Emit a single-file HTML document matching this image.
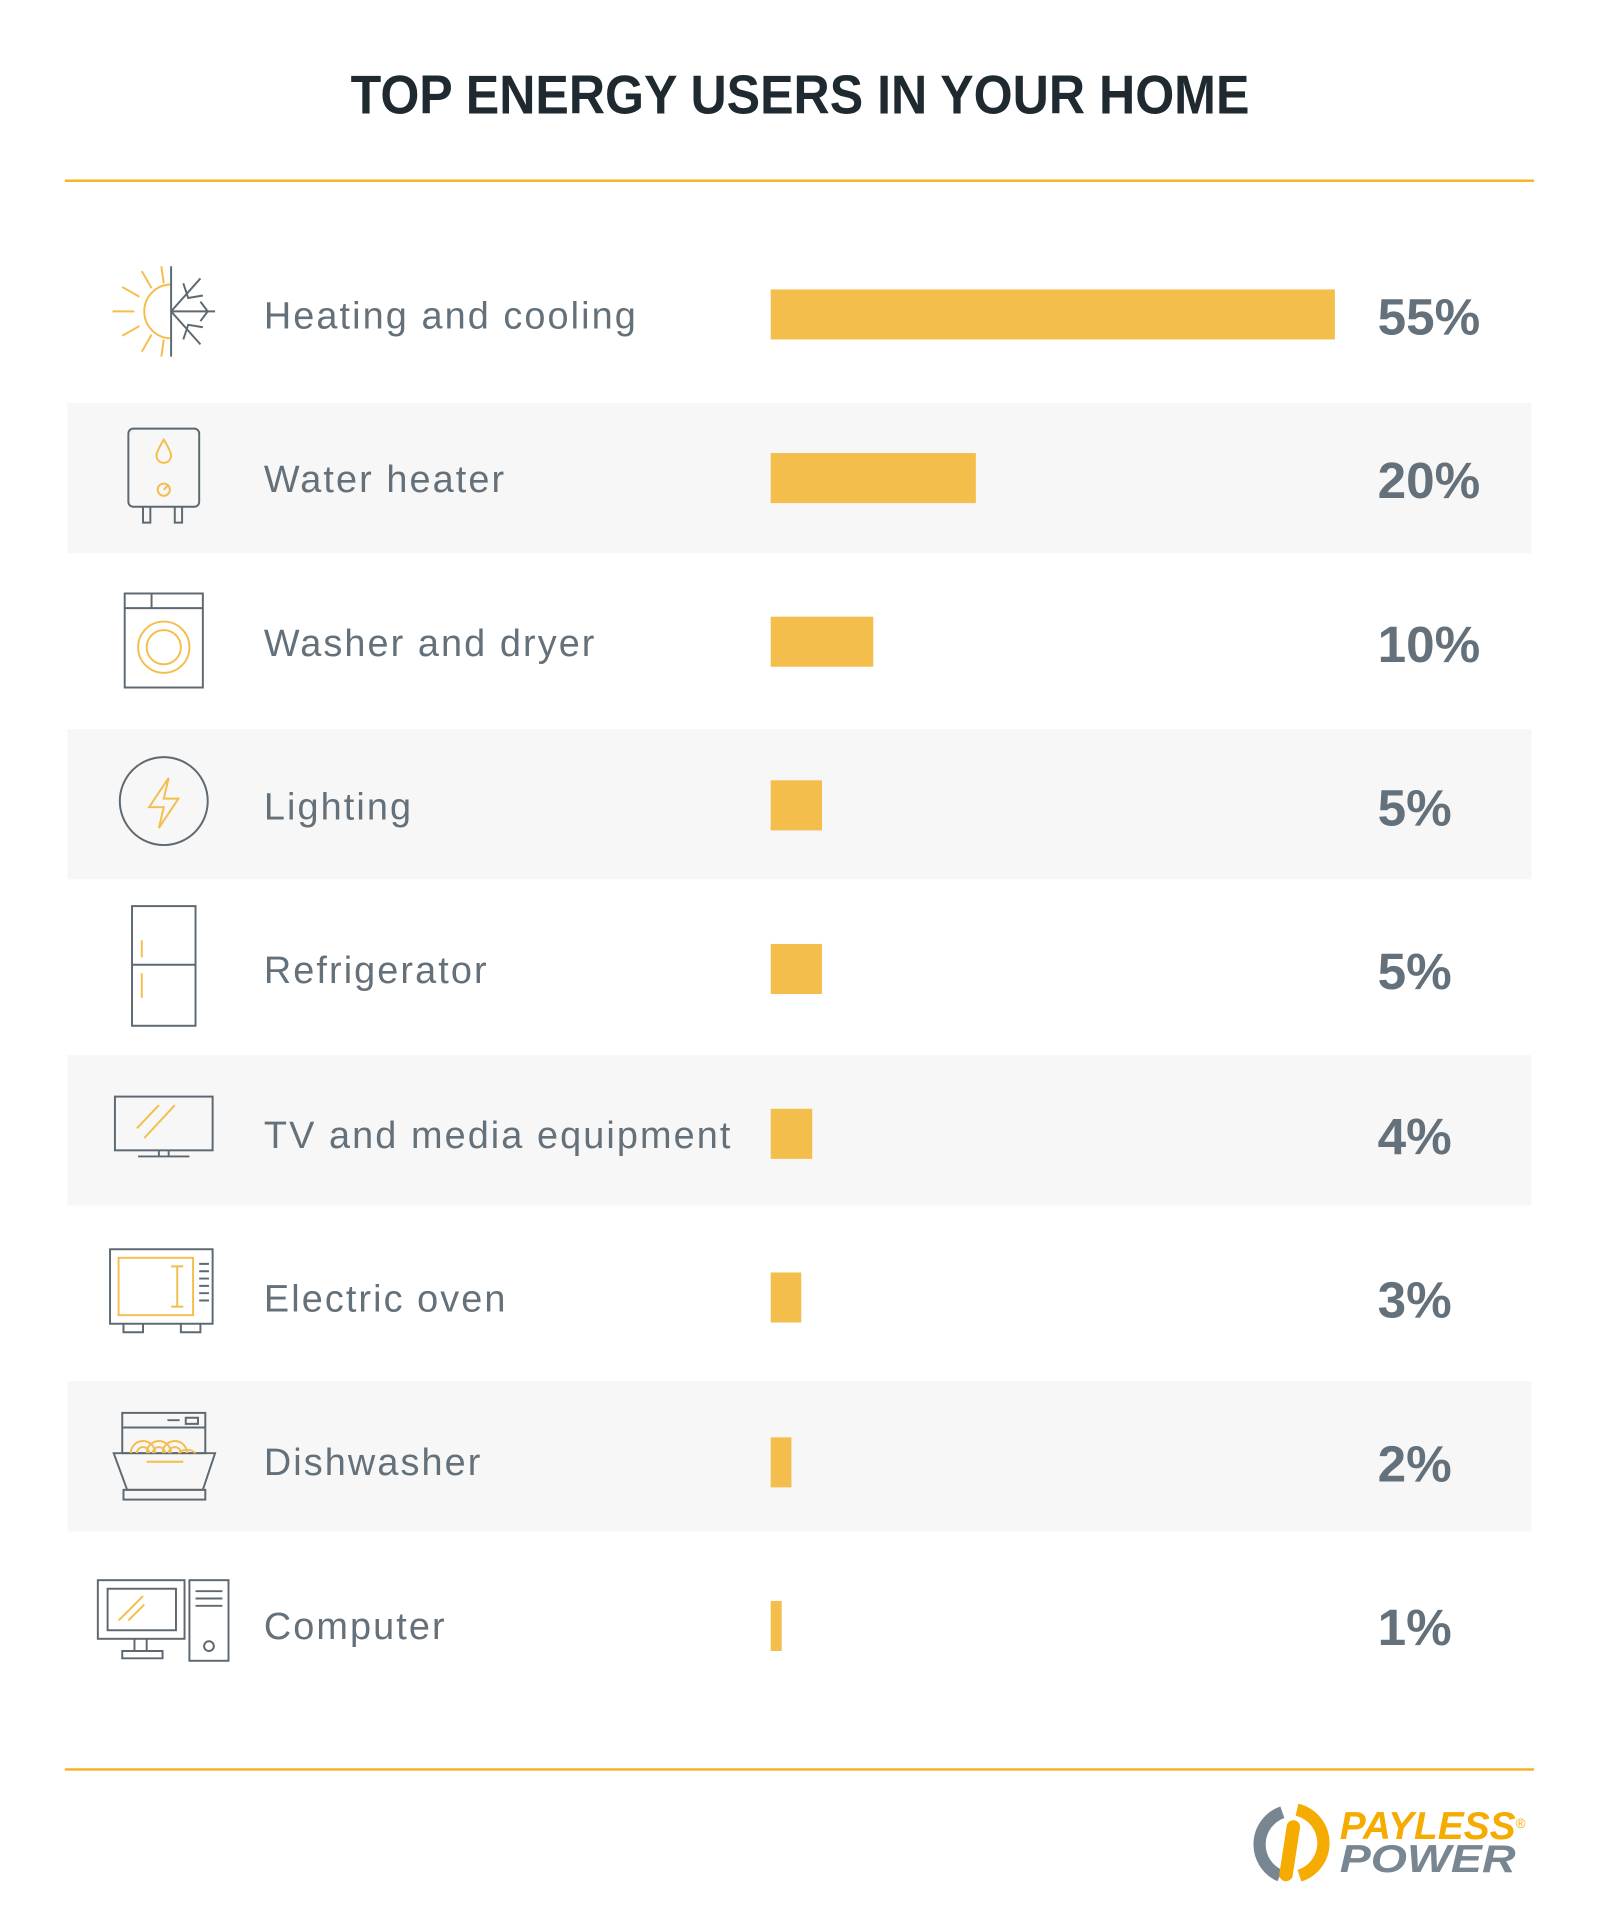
<!DOCTYPE html>
<html><head><meta charset="utf-8"><style>html,body{margin:0;padding:0;background:#fff}svg{display:block}</style></head>
<body>
<svg width="1600" height="1916" viewBox="0 0 1310 1569" xmlns="http://www.w3.org/2000/svg">
<rect width="1310" height="1569" fill="#fff"/>
<text x="655" y="93" text-anchor="middle" font-family="Liberation Sans, sans-serif" font-weight="bold" font-size="45" fill="#1f2a30" textLength="736" lengthAdjust="spacingAndGlyphs">TOP ENERGY USERS IN YOUR HOME</text>
<rect x="53" y="147" width="1203" height="2" fill="#f4b223"/>
<rect x="53" y="1448" width="1203" height="2" fill="#f4b223"/>
<g fill="#f7f7f7">
<rect x="55" y="330" width="1199" height="123"/>
<rect x="55" y="597" width="1199" height="123"/>
<rect x="55" y="864" width="1199" height="123"/>
<rect x="55" y="1131" width="1199" height="123"/>
</g>
<g font-family="Liberation Sans, sans-serif" font-size="31" fill="#65717a" letter-spacing="1.7">
<text x="216" y="269">Heating and cooling</text>
<text x="216" y="403">Water heater</text>
<text x="216" y="537">Washer and dryer</text>
<text x="216" y="671">Lighting</text>
<text x="216" y="805">Refrigerator</text>
<text x="216" y="940">TV and media equipment</text>
<text x="216" y="1074">Electric oven</text>
<text x="216" y="1208">Dishwasher</text>
<text x="216" y="1342">Computer</text>
</g>
<g fill="#f4be4c">
<rect x="631" y="237" width="462" height="41"/>
<rect x="631" y="371" width="168" height="41"/>
<rect x="631" y="505" width="84" height="41"/>
<rect x="631" y="639" width="42" height="41"/>
<rect x="631" y="773" width="42" height="41"/>
<rect x="631" y="908" width="34" height="41"/>
<rect x="631" y="1042" width="25" height="41"/>
<rect x="631" y="1177" width="17" height="41"/>
<rect x="631" y="1311" width="9" height="41"/>
</g>
<g font-family="Liberation Sans, sans-serif" font-weight="bold" font-size="42" fill="#65717a">
<text x="1128" y="274">55%</text>
<text x="1128" y="408">20%</text>
<text x="1128" y="542">10%</text>
<text x="1128" y="676">5%</text>
<text x="1128" y="810">5%</text>
<text x="1128" y="945">4%</text>
<text x="1128" y="1079">3%</text>
<text x="1128" y="1213">2%</text>
<text x="1128" y="1347">1%</text>
</g>
<g fill="none" stroke-width="1.6">
<path d="M140 233 A22 22 0 0 0 140 277" stroke="#f4be4c"/>
<g stroke="#f4be4c"><line x1="92" y1="255" x2="110" y2="255"/><line x1="100" y1="235" x2="114" y2="243"/><line x1="100" y1="275" x2="114" y2="267"/><line x1="116" y1="222" x2="124" y2="236"/><line x1="116" y1="288" x2="124" y2="274"/><line x1="132" y1="218" x2="134" y2="232"/><line x1="132" y1="292" x2="134" y2="278"/></g>
<g stroke="#5d6870"><line x1="140" y1="218" x2="140" y2="292"/><line x1="140" y1="255" x2="176" y2="255"/><line x1="140" y1="255" x2="164" y2="228"/><line x1="140" y1="255" x2="164" y2="282"/><path d="M150 232 l4 12 l12 -2 M150 278 l4 -12 l12 2 M164 247 l6 8 l-6 8"/></g>
<rect x="105" y="351" width="58" height="64" rx="4" stroke="#5d6870"/>
<path d="M117 415 v13 h6 v-13 M143 415 v13 h6 v-13" stroke="#5d6870"/>
<path d="M134 360 q-6 10 -6 13 a6 6 0 0 0 12 0 q0 -3 -6 -13z" stroke="#f4be4c"/>
<circle cx="134" cy="401" r="5" stroke="#f4be4c"/><line x1="134" y1="401" x2="137" y2="398" stroke="#f4be4c"/>
<rect x="102" y="486" width="64" height="77" stroke="#5d6870"/><line x1="102" y1="498" x2="166" y2="498" stroke="#5d6870"/><line x1="124" y1="486" x2="124" y2="498" stroke="#5d6870"/>
<circle cx="134" cy="530" r="21" stroke="#f4be4c"/><circle cx="134" cy="530" r="14" stroke="#f4be4c"/>
<circle cx="134" cy="656" r="36" stroke="#5d6870"/>
<path d="M138 637 l-16 24 h12 l-4 17 l16 -24 h-12z" stroke="#f4be4c"/>
<rect x="108" y="742" width="52" height="98" stroke="#5d6870"/><line x1="108" y1="790" x2="160" y2="790" stroke="#5d6870"/>
<line x1="116" y1="770" x2="116" y2="784" stroke="#f4be4c"/><line x1="116" y1="797" x2="116" y2="817" stroke="#f4be4c"/>
<rect x="94" y="898" width="80" height="44" stroke="#5d6870"/><line x1="113" y1="947" x2="155" y2="947" stroke="#5d6870"/><line x1="130" y1="942" x2="130" y2="947" stroke="#5d6870"/><line x1="138" y1="942" x2="138" y2="947" stroke="#5d6870"/>
<line x1="112" y1="924" x2="130" y2="905" stroke="#f4be4c"/><line x1="118" y1="932" x2="143" y2="905" stroke="#f4be4c"/>
<rect x="90" y="1023" width="84" height="61" stroke="#5d6870"/><rect x="97" y="1030" width="61" height="47" stroke="#f4be4c"/>
<path d="M140 1037 h10 M145 1037 v33 M140 1070 h10" stroke="#f4be4c"/>
<path d="M163 1035 h8 M163 1041 h8 M163 1047 h8 M163 1053 h8 M163 1059 h8 M163 1065 h8" stroke="#5d6870"/>
<path d="M101 1084 v7 h16 v-7 M148 1084 v7 h16 v-7" stroke="#5d6870"/>
<rect x="100" y="1157" width="68" height="33" stroke="#5d6870"/><line x1="100" y1="1169" x2="168" y2="1169" stroke="#5d6870"/>
<path d="M137 1163 h10 M152 1161 h10 v5 h-10z" stroke="#5d6870"/>
<path d="M93 1190 h83 l-10 30 h-62z" stroke="#5d6870"/><rect x="101" y="1220" width="67" height="8" stroke="#5d6870"/>
<path d="M107 1190 a10 10 0 0 1 20 0 M120 1190 a10 10 0 0 1 20 0 M133 1190 a10 10 0 0 1 20 0 M146 1190 a10 10 0 0 1 14 0 M112 1190 a5 5 0 0 1 10 0 M125 1190 a5 5 0 0 1 10 0 M138 1190 a5 5 0 0 1 10 0 M120 1197 h30" stroke="#f4be4c"/>
<rect x="80" y="1294" width="71" height="48" stroke="#5d6870"/><rect x="88" y="1301" width="56" height="34" stroke="#5d6870"/>
<path d="M97 1327 l20 -20 M105 1327 l13 -13" stroke="#f4be4c"/>
<path d="M110 1342 v10 M120 1342 v10 M100 1358 h33 v-6 h-33z" stroke="#5d6870"/>
<rect x="155" y="1294" width="32" height="66" stroke="#5d6870"/><path d="M160 1303 h22 M160 1309 h22 M160 1315 h22" stroke="#5d6870"/><circle cx="171" cy="1348" r="4" stroke="#5d6870"/>
</g>
<path d="M1050 1484 A28 28 0 0 0 1048 1536" fill="none" stroke="#788692" stroke-width="10"/>
<path d="M1062 1482 A28 28 0 0 1 1064 1536" fill="none" stroke="#f6ab00" stroke-width="10"/>
<line x1="1059" y1="1496" x2="1053" y2="1535" stroke="#f6ab00" stroke-width="11" stroke-linecap="round"/>
<text x="1097" y="1506" font-family="Liberation Sans, sans-serif" font-weight="bold" font-style="italic" font-size="32" fill="#f6ab00" textLength="144" lengthAdjust="spacingAndGlyphs">PAYLESS</text>
<text x="1097" y="1533" font-family="Liberation Sans, sans-serif" font-weight="bold" font-style="italic" font-size="32" fill="#788692" textLength="144" lengthAdjust="spacingAndGlyphs">POWER</text>
<text x="1241" y="1497" font-family="Liberation Sans, sans-serif" font-size="11" fill="#f6ab00">®</text>
</svg>
</body></html>
